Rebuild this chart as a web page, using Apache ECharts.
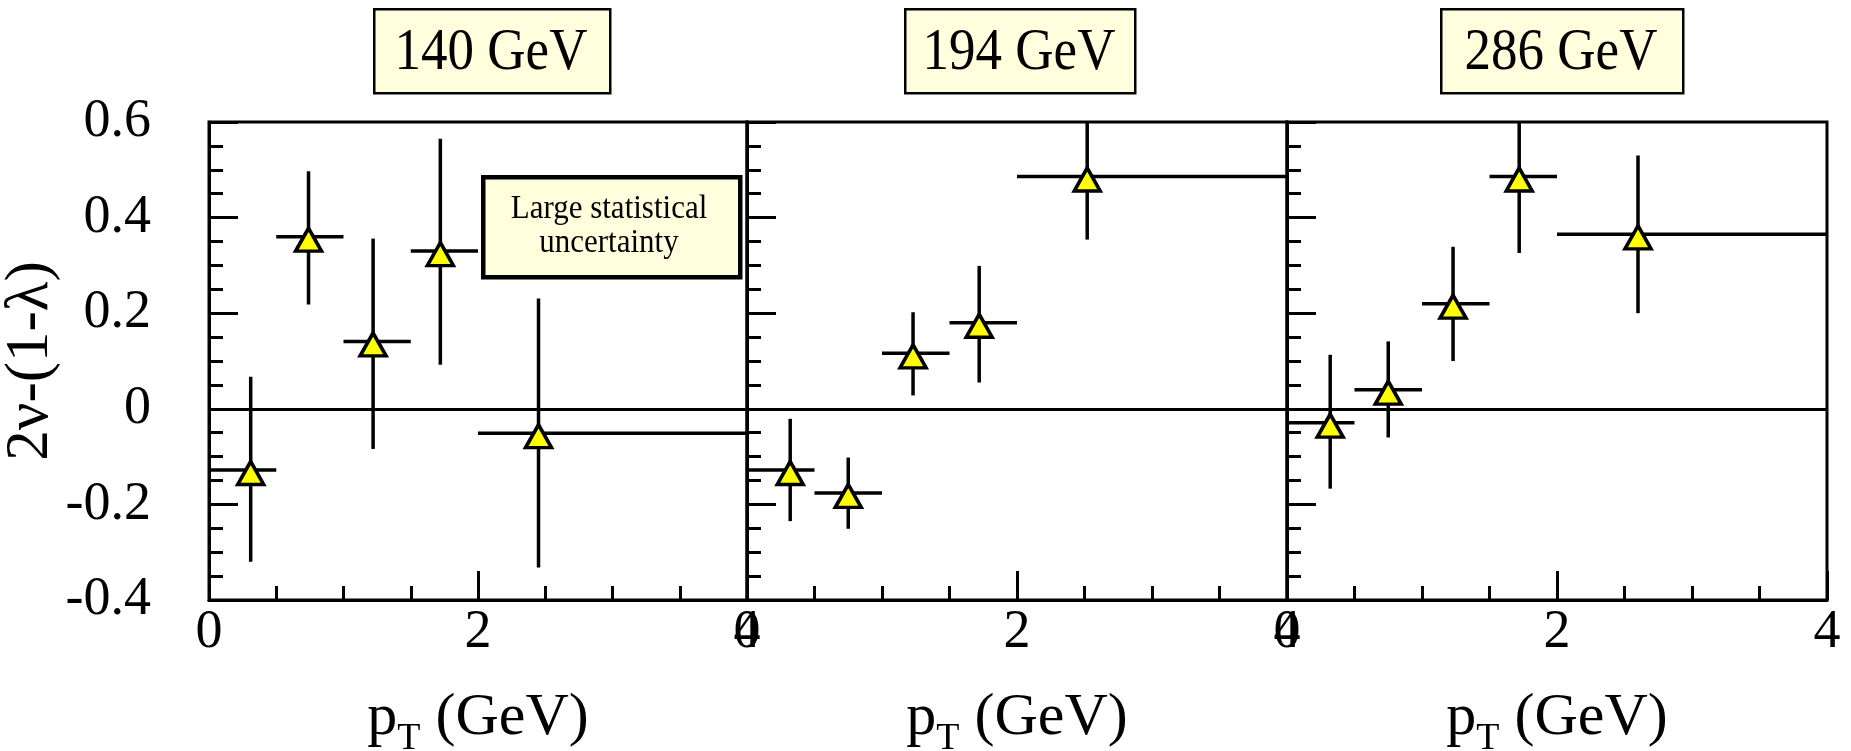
<!DOCTYPE html>
<html>
<head>
<meta charset="utf-8">
<script src="https://cdn.jsdelivr.net/npm/echarts@6/dist/echarts.min.js"></script>
<style>
  html, body { margin: 0; padding: 0; background: #fff; }
  #chart { width: 1851px; height: 751px; }
</style>
</head>
<body>
<div id="chart"></div>
<script>
// Beam energies, one panel each
const energies = ['140 GeV', '194 GeV', '286 GeV'];

// pT bins (GeV), shared by all panels
const binLow  = [0.0, 0.5, 1.0, 1.5, 2.0];
const binHigh = [0.5, 1.0, 1.5, 2.0, 4.0];

// 140 GeV
const pt140   = [0.31, 0.74, 1.22, 1.72, 2.45];
const val140  = [-0.128, 0.360, 0.141, 0.330, -0.051];
const up140   = [0.067, 0.497, 0.356, 0.565, 0.231];
const down140 = [-0.320, 0.218, -0.084, 0.092, -0.332];

// 194 GeV
const pt194   = [0.32, 0.75, 1.23, 1.72, 2.52];
const val194  = [-0.128, -0.176, 0.116, 0.180, 0.486];
const up194   = [-0.021, -0.102, 0.202, 0.299, 0.630];
const down194 = [-0.235, -0.251, 0.028, 0.055, 0.354];

// 286 GeV
const pt286   = [0.32, 0.75, 1.23, 1.72, 2.60];
const val286  = [-0.029, 0.040, 0.220, 0.486, 0.365];
const up286   = [0.113, 0.141, 0.339, 0.630, 0.530];
const down286 = [-0.167, -0.060, 0.100, 0.326, 0.200];

const yTicks = [-0.4, -0.2, 0, 0.2, 0.4, 0.6];
const xTicks = [0, 2, 4];

const panels = [
  { pt: pt140, val: val140, up: up140, down: down140 },
  { pt: pt194, val: val194, up: up194, down: down194 },
  { pt: pt286, val: val286, up: up286, down: down286 }
];

const FONT = '"Liberation Serif", "Times New Roman", serif';
const gridLefts = [209, 747, 1287];
const gridWidths = [538, 540, 540];
const gridTop = 122, gridHeight = 478;

const grids = [], xAxes = [], yAxes = [], series = [];

panels.forEach((p, i) => {
  grids.push({
    left: gridLefts[i], width: gridWidths[i], top: gridTop, height: gridHeight,
    containLabel: false, outerBoundsMode: 'none',
    show: true, borderColor: '#000', borderWidth: 3, backgroundColor: 'transparent'
  });
  xAxes.push({
    gridIndex: i, type: 'value',
    min: xTicks[0], max: xTicks[xTicks.length - 1], interval: xTicks[1] - xTicks[0],
    axisLine: { show: true, onZero: false, lineStyle: { color: '#000', width: 3 } },
    axisTick: { show: true, inside: true, length: 29, lineStyle: { color: '#000', width: 3 } },
    minorTick: { show: true, splitNumber: 4, length: 14, lineStyle: { color: '#000', width: 3 } },
    splitLine: { show: false },
    axisLabel: { show: true, margin: 6, color: '#000', fontFamily: FONT, fontSize: 54,
                 showMinLabel: true, showMaxLabel: true },
    // p with a lowered subscript T
    name: '{p|p}{s|T}{n| (GeV)}',
    nameLocation: 'middle', nameGap: 78,
    nameTextStyle: {
      color: '#000', fontFamily: FONT,
      rich: {
        p: { fontFamily: FONT, fontSize: 60, color: '#000', verticalAlign: 'middle', lineHeight: 80 },
        s: { fontFamily: FONT, fontSize: 38, color: '#000', verticalAlign: 'bottom', lineHeight: 38 },
        n: { fontFamily: FONT, fontSize: 60, color: '#000', verticalAlign: 'middle', lineHeight: 80 }
      }
    }
  });
  yAxes.push({
    gridIndex: i, type: 'value',
    min: yTicks[0], max: yTicks[yTicks.length - 1], interval: yTicks[1] - yTicks[0],
    axisLine: { show: true, onZero: false, lineStyle: { color: '#000', width: 3 } },
    axisTick: { show: true, inside: true, length: 29, lineStyle: { color: '#000', width: 3 } },
    minorTick: { show: true, splitNumber: 4, length: 14, lineStyle: { color: '#000', width: 3 } },
    splitLine: { show: false },
    axisLabel: { show: i === 0, margin: 58, color: '#000', fontFamily: FONT, fontSize: 54,
                 formatter: v => String(Math.round(v * 10) / 10) },
    name: i === 0 ? '2ν-(1-λ)' : '',
    nameLocation: 'middle', nameRotate: 90, nameGap: 134,
    nameTextStyle: { color: '#000', fontFamily: FONT, fontSize: 61 }
  });

  const barData = p.pt.map((x, k) => [x, p.val[k], binLow[k], binHigh[k], p.down[k], p.up[k]]);

  series.push({
    type: 'custom',
    xAxisIndex: i, yAxisIndex: i,
    clip: true,
    z: 2,
    encode: { x: 0, y: 1 },
    data: barData,
    renderItem: (params, api) => {
      const x = api.value(0), y = api.value(1);
      const lo = api.coord([x, api.value(4)]);
      const hi = api.coord([x, api.value(5)]);
      const l = api.coord([api.value(2), y]);
      const r = api.coord([api.value(3), y]);
      const style = { stroke: '#000', lineWidth: 3.5 };
      return {
        type: 'group',
        children: [
          { type: 'line', shape: { x1: lo[0], y1: lo[1], x2: hi[0], y2: hi[1] }, style },
          { type: 'line', shape: { x1: l[0], y1: l[1], x2: r[0], y2: r[1] }, style }
        ]
      };
    },
    markLine: {
      silent: true, symbol: 'none', animation: false,
      label: { show: false },
      lineStyle: { color: '#000', width: 3, type: 'solid' },
      data: [{ yAxis: 0 }]
    }
  });

  series.push({
    type: 'scatter',
    xAxisIndex: i, yAxisIndex: i,
    z: 5,
    symbol: 'triangle',
    symbolSize: [26, 23],
    symbolOffset: [0, 3],
    itemStyle: { color: '#ffff00', borderColor: '#000', borderWidth: 3.5, opacity: 1 },
    data: p.pt.map((x, k) => [x, p.val[k]])
  });
});

// Energy label boxes above the panels and the note in the first panel
const titleBoxes = [
  { cx: 491, w: 236 },
  { cx: 1019, w: 230 },
  { cx: 1561, w: 242 }
];
const graphics = [];
titleBoxes.forEach((b, i) => {
  graphics.push({
    type: 'rect', left: b.cx - b.w / 2, top: 8,
    shape: { width: b.w, height: 84 },
    style: { fill: '#ffffdd', stroke: '#000', lineWidth: 2.5 }, z: 10
  });
  graphics.push({
    type: 'text', x: b.cx, y: 53, scaleY: 1.12,
    style: { text: energies[i], fontFamily: FONT, fontSize: 53, fill: '#000',
             align: 'center', verticalAlign: 'middle' }, z: 11
  });
});
graphics.push({
  type: 'rect', left: 481, top: 175,
  shape: { width: 257, height: 100 },
  style: { fill: '#ffffdd', stroke: '#000', lineWidth: 4.5 }, z: 10
});
graphics.push({
  type: 'text', x: 609, y: 226, scaleY: 1.1,
  style: { text: 'Large statistical\nuncertainty', fontFamily: FONT, fontSize: 31, lineHeight: 31,
           fill: '#000', align: 'center', verticalAlign: 'middle' }, z: 11
});

const chart = echarts.init(document.getElementById('chart'), null, { renderer: 'canvas' });
chart.setOption({
  animation: false,
  backgroundColor: '#fff',
  grid: grids,
  xAxis: xAxes,
  yAxis: yAxes,
  series: series,
  graphic: graphics
});
</script>
</body>
</html>
